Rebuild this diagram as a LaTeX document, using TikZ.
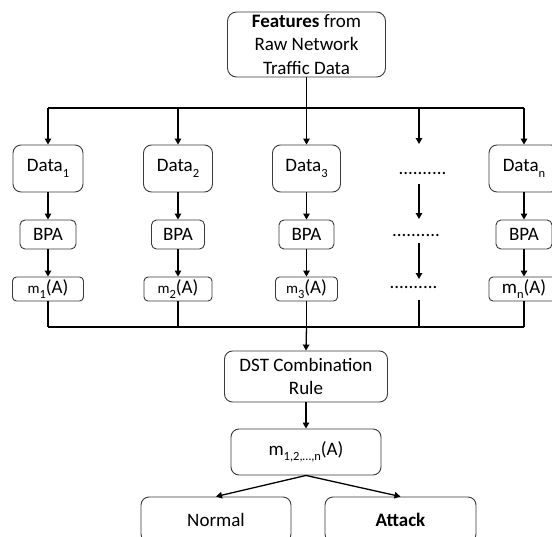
\documentclass[tikz,border=0pt]{standalone}
\usepackage{fontspec}
\setmainfont{Carlito}
\usetikzlibrary{arrows.meta}
\definecolor{boxgray}{HTML}{3A3A3A}
\newcommand\sbs[1]{\raisebox{-0.28em}{\fontsize{12.5}{12.5}\selectfont #1}}
\newcommand\smallm{{\fontsize{15}{15}\selectfont m}}
\begin{document}
\begin{tikzpicture}[x=1pt,y=-1pt,
  box/.style={draw=boxgray, line width=0.9pt, rounded corners=#1, inner sep=0pt,
    align=center, font=\fontsize{19}{23.5}\selectfont},
  box/.default=6pt,
  dots/.style={anchor=base, inner sep=0pt, font=\fontsize{19}{19}\selectfont},
  conn/.style={line width=1.3pt, draw=black},
  arr/.style={conn, -{Triangle[length=6pt,width=6.5pt]}}]
\useasboundingbox (0,0) rectangle (552,536);
\clip (0,0) rectangle (552,536);

% top
\node[box=9pt, minimum width=158pt, minimum height=65pt] (top) at (306.5,44.5)
  {\textbf{Features} from\\Raw Network\\Traffic Data};

% data row
\node[box=8pt, minimum width=70pt, minimum height=47pt] (d1) at (48,168.5) {Data\sbs{1}};
\node[box=8pt, minimum width=69pt, minimum height=47pt] (d2) at (178,168.5) {Data\sbs{2}};
\node[box=8pt, minimum width=68pt, minimum height=47pt] (d3) at (306.5,168.5) {Data\sbs{3}};
\node[box=8pt, minimum width=70pt, minimum height=47pt] (dn) at (524,168.5) {Data\sbs{n}};
\node[dots] (e1) at (422.5,174) {..........};

% BPA row
\node[box=5pt, minimum width=56pt, minimum height=29pt] (b1) at (48,234.5) {BPA};
\node[box=5pt, minimum width=53pt, minimum height=29pt] (b2) at (178,234.5) {BPA};
\node[box=5pt, minimum width=55pt, minimum height=29pt] (b3) at (306.5,234.5) {BPA};
\node[box=5pt, minimum width=56pt, minimum height=29pt] (bn) at (524,234.5) {BPA};
\node[dots] (e2) at (416,236.5) {..........};

% m row
\node[box=4pt, minimum width=71pt, minimum height=24pt] (m1) at (48,289) {\smallm\sbs{1}(A)};
\node[box=4pt, minimum width=68pt, minimum height=24pt] (m2) at (178,289) {\smallm\sbs{2}(A)};
\node[box=4pt, minimum width=62pt, minimum height=24pt] (m3) at (306.5,289) {\smallm\sbs{3}(A)};
\node[box=4pt, minimum width=70pt, minimum height=24pt] (mn) at (524,289) {m\sbs{n}(A)};
\node[dots] (e3) at (413.5,288.5) {..........};

% combination
\node[box=8pt, minimum width=163pt, minimum height=51pt] (dst) at (306,376.5) {DST Combination\\Rule};
\node[box=8pt, minimum width=150pt, minimum height=46pt] (mc) at (306,452) {m\sbs{1,2,…,n}(A)};
\node[box=8pt, minimum width=150pt, minimum height=45pt] (normal) at (216,519.5) {Normal};
\node[box=8pt, minimum width=151pt, minimum height=45pt] (attack) at (400.5,519.5) {\textbf{Attack}};

% named points of the dotted column
\coordinate (bus) at (306.5,108);
\coordinate (bus2) at (306.5,327);
\coordinate (c4) at (419,108);
\coordinate (c4a) at (419,144);
\coordinate (c4b) at (419,184);
\coordinate (c4c) at (419,219);
\coordinate (c4d) at (419,243);
\coordinate (c4e) at (419,279);
\coordinate (c4f) at (419,300);
\coordinate (c4g) at (419,327);

% distribution bus
\draw[conn] (top.south) -- (bus);
\draw[conn] (d1.north |- bus) -- (dn.north |- bus);
\draw[arr] (d1.north |- bus) -- (d1.north);
\draw[arr] (d2.north |- bus) -- (d2.north);
\draw[arr] (bus) -- (d3.north);
\draw[arr] (c4) -- (c4a);
\draw[arr] (dn.north |- bus) -- (dn.north);

% columns
\foreach \i in {1,2,3,n}{
  \draw[arr] (d\i.south) -- (b\i.north);
  \draw[arr] (b\i.south) -- (m\i.north);
  \draw[conn] (m\i.south) -- (m\i.south |- bus2);
}
\draw[arr] (c4b) -- (c4c);
\draw[arr] (c4d) -- (c4e);
\draw[conn] (c4f) -- (c4g);

% collection bus
\draw[conn] (m1.south |- bus2) -- (mn.south |- bus2);
\draw[arr] (bus2) -- (dst.north);
\draw[arr] (dst.south) -- (mc.north);
\draw[arr] (mc.south) -- (normal.north);
\draw[arr] (mc.south) -- (attack.north);
\end{tikzpicture}
\end{document}
